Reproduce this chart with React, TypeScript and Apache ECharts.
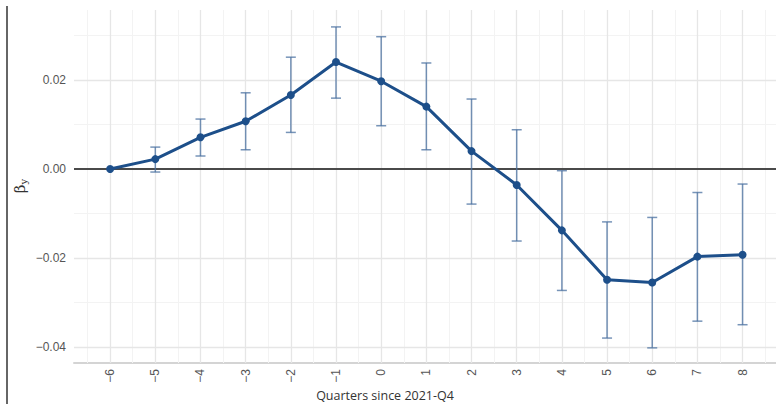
import React, { useEffect, useRef } from "react";
import * as echarts from "echarts";

const quarters = [-6, -5, -4, -3, -2, -1, 0, 1, 2, 3, 4, 5, 6, 7, 8];
const estimates = [0, 0.0022, 0.0071, 0.0107, 0.0166, 0.024, 0.0197, 0.014, 0.004, -0.0036, -0.0138, -0.0249, -0.0255, -0.0197, -0.0193];
const ciUpper = [0, 0.0049, 0.0112, 0.0171, 0.0251, 0.0319, 0.0297, 0.0238, 0.0157, 0.0088, -0.0004, -0.0119, -0.0109, -0.0053, -0.0034];
const ciLower = [0, -0.0007, 0.0029, 0.0043, 0.0082, 0.0159, 0.0097, 0.0043, -0.0079, -0.0162, -0.0273, -0.038, -0.0402, -0.0342, -0.035];
const xTicks = [-6, -5, -4, -3, -2, -1, 0, 1, 2, 3, 4, 5, 6, 7, 8];
const xMinor = [-6.5, -5.5, -4.5, -3.5, -2.5, -1.5, -0.5, 0.5, 1.5, 2.5, 3.5, 4.5, 5.5, 6.5, 7.5, 8.5];
const yTicks = [-0.04, -0.02, 0, 0.02];
const yMinor = [-0.03, -0.01, 0.01, 0.03];

export default function App() {
  const ref = useRef<HTMLDivElement>(null);
  useEffect(() => {
    if (!ref.current) return;
    const chart = echarts.init(ref.current, null, { renderer: "svg" });
    const lineData = quarters.map((q, i) => [q, estimates[i]]);
    const ciData = quarters.map((q, i) => [q, ciLower[i], ciUpper[i]]).filter((d) => d[1] !== d[2]);
    const gridMarks: any[] = [];
    xMinor.forEach((v) => gridMarks.push({ xAxis: v, lineStyle: { color: "#f3f3f3", width: 1, type: "solid" } }));
    yMinor.forEach((v) => gridMarks.push({ yAxis: v, lineStyle: { color: "#f3f3f3", width: 1, type: "solid" } }));
    xTicks.forEach((v) => gridMarks.push({ xAxis: v, lineStyle: { color: "#e6e6e6", width: 1.3, type: "solid" } }));
    yTicks.filter((v) => v !== 0).forEach((v) => gridMarks.push({ yAxis: v, lineStyle: { color: "#e6e6e6", width: 1.3, type: "solid" } }));
    const labelStyle = { color: "#555555", fontSize: 12, fontFamily: "Liberation Sans, Arial, sans-serif" };
    chart.setOption({
      animation: false,
      grid: { left: 74, right: 0, top: 10, bottom: 41 },
      xAxis: {
        type: "value",
        min: -6.8,
        max: 8.74,
        splitLine: { show: false },
        axisTick: { show: false },
        axisLine: { show: true, onZero: false, lineStyle: { color: "#d4d4d4", width: 2 } },
        axisLabel: {
          ...labelStyle,
          rotate: 90,
          margin: 6,
          customValues: xTicks,
          formatter: (v: number) => (v < 0 ? "\u2212" + Math.abs(v) : String(v)),
        },
      },
      yAxis: {
        type: "value",
        min: -0.0436,
        max: 0.0357,
        splitLine: { show: false },
        axisTick: { show: false },
        axisLine: { show: false },
        axisLabel: {
          ...labelStyle,
          margin: 8,
          customValues: yTicks,
          formatter: (v: number) => (v < 0 ? "\u2212" + Math.abs(v).toFixed(2) : v.toFixed(2)),
        },
      },
      graphic: [
        {
          type: "line",
          shape: { x1: 7, y1: 6, x2: 7, y2: 404 },
          style: { stroke: "#333333", lineWidth: 1.5 },
        },
        {
          type: "text",
          x: 385,
          y: 395,
          style: {
            text: "Quarters since 2021-Q4",
            fill: "#333333",
            font: "12.5px 'Open Sans', 'Liberation Sans', sans-serif",
            align: "center",
            verticalAlign: "middle",
          },
        },
        {
          type: "text",
          x: 20,
          y: 186,
          rotation: Math.PI / 2,
          style: {
            text: "{a|β}{b|y}",
            align: "center",
            verticalAlign: "middle",
            rich: {
              a: { fontSize: 15, fontFamily: "DejaVu Serif, serif", fill: "#333333" },
              b: { fontSize: 10, fontFamily: "DejaVu Serif, serif", fill: "#333333", verticalAlign: "bottom", padding: [7, 0, 0, 0] },
            },
          },
        },
      ],
      series: [
        {
          type: "line",
          data: [],
          silent: true,
          z: 1,
          markLine: {
            silent: true,
            z: 1,
            symbol: "none",
            label: { show: false },
            data: gridMarks,
          },
        },
        {
          type: "line",
          data: [],
          silent: true,
          z: 2,
          markLine: {
            silent: true,
            z: 2,
            symbol: "none",
            label: { show: false },
            data: [{ yAxis: 0, lineStyle: { color: "#4a4a4a", width: 2, type: "solid" } }],
          },
        },
        {
          type: "custom",
          z: 3,
          data: ciData,
          renderItem: (params: any, api: any) => {
            const x = api.value(0);
            const lo = api.coord([x, api.value(1)]);
            const hi = api.coord([x, api.value(2)]);
            const hw = 5;
            const style = { stroke: "rgba(74,112,160,0.75)", lineWidth: 1.5 };
            return {
              type: "group",
              children: [
                { type: "line", shape: { x1: lo[0], y1: lo[1], x2: hi[0], y2: hi[1] }, style },
                { type: "line", shape: { x1: hi[0] - hw, y1: hi[1], x2: hi[0] + hw, y2: hi[1] }, style },
                { type: "line", shape: { x1: lo[0] - hw, y1: lo[1], x2: lo[0] + hw, y2: lo[1] }, style },
              ],
            };
          },
        },
        {
          type: "line",
          z: 6,
          data: lineData,
          symbol: "circle",
          symbolSize: 8,
          lineStyle: { color: "#1d4f8a", width: 3 },
          itemStyle: { color: "#1d4f8a" },
        },
      ],
    });
    return () => chart.dispose();
  }, []);
  return <div ref={ref} style={{ position: "fixed", left: 0, top: 0, width: 776, height: 404, background: "#ffffff" }} />;
}
